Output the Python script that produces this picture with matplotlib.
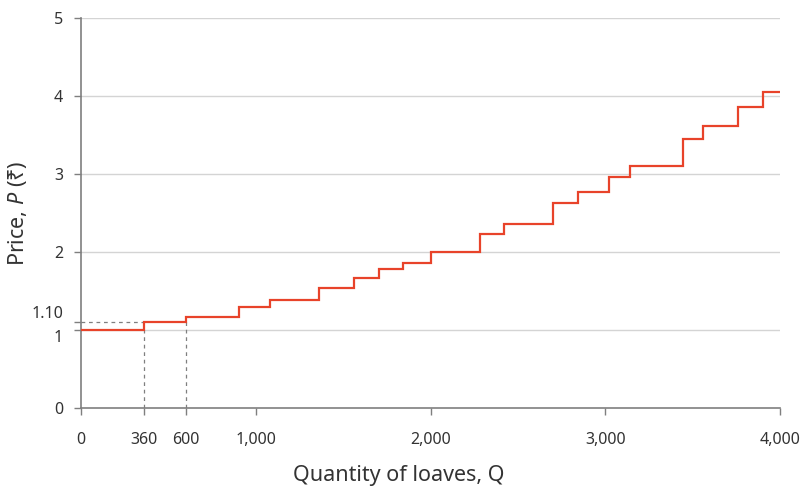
import numpy as np
import matplotlib.pyplot as plt

plt.rcParams['font.family'] = ['Noto Sans', 'DejaVu Sans']
plt.rcParams['mathtext.fontset'] = 'custom'
plt.rcParams['mathtext.it'] = 'Noto Sans:italic'
plt.rcParams['mathtext.rm'] = 'Noto Sans'

# step supply curve: quantity edges and price on each step
q_edges = [0, 360, 600, 905, 1080, 1362, 1562, 1705, 1843, 2000, 2283,
           2421, 2701, 2844, 3021, 3142, 3445, 3559, 3760, 3903, 4000]
prices = [1.00, 1.10, 1.17, 1.30, 1.38, 1.54, 1.67, 1.78, 1.86, 2.00,
          2.23, 2.36, 2.63, 2.77, 2.96, 3.10, 3.45, 3.61, 3.86, 4.05]

x_ticks = [0, 360, 600, 1000, 2000, 3000, 4000]
x_labels = ['0', '360', '600', '1,000', '2,000', '3,000', '4,000']
y_ticks = [0, 1, 1.10, 2, 3, 4, 5]
y_labels = ['0', '1', '1.10', '2', '3', '4', '5']

red = '#e8432a'
grey = '#7f7f7f'
text_c = '#333333'

fig = plt.figure(figsize=(8.09, 5.0), dpi=100)
ax = fig.add_axes([81 / 809, 92 / 500, 699 / 809, 390 / 500])

# horizontal gridlines
for y in [1, 2, 3, 4, 5]:
    ax.axhline(y, color='#d4d4d4', lw=1, zorder=1)

# dashed guides
ax.plot([0, 360], [1.10, 1.10], ls=(0, (3, 3)), color=grey, lw=0.9, zorder=2)
ax.plot([360, 360], [0, 1.0], ls=(0, (3, 3)), color=grey, lw=0.9, zorder=2)
ax.plot([600, 600], [0, 1.10], ls=(0, (3, 3)), color=grey, lw=0.9, zorder=2)

ax.stairs(prices, q_edges, baseline=None, color=red, lw=1.6, zorder=3)

ax.set_xlim(0, 4000)
ax.set_ylim(0, 5)

ax.spines['top'].set_visible(False)
ax.spines['right'].set_visible(False)
ax.spines['left'].set_color(grey)
ax.spines['bottom'].set_color(grey)
ax.spines['left'].set_linewidth(1.2)
ax.spines['bottom'].set_linewidth(1.2)

ax.set_xticks(x_ticks)
ax.set_xticklabels(x_labels)
ax.set_yticks(y_ticks)
ax.set_yticklabels(y_labels)
ax.tick_params(axis='both', colors=grey, labelcolor=text_c, labelsize=11.5,
               length=5, width=1)
ax.tick_params(axis='y', pad=8)
ax.tick_params(axis='x', pad=12)

for lab in ax.get_yticklabels():
    if lab.get_text() == '1.10':
        lab.set_va('bottom')
    elif lab.get_text() == '1':
        lab.set_va('top')

ax.set_xlabel('Quantity of loaves, Q', fontsize=15.5, color=text_c)
ax.xaxis.set_label_coords(0.454, -0.145)
ax.set_ylabel('Price, $P$ (₹)', fontsize=15.5, color=text_c)
ax.yaxis.set_label_coords(-0.075, 0.5)

fig.savefig('out.png', dpi=100)
